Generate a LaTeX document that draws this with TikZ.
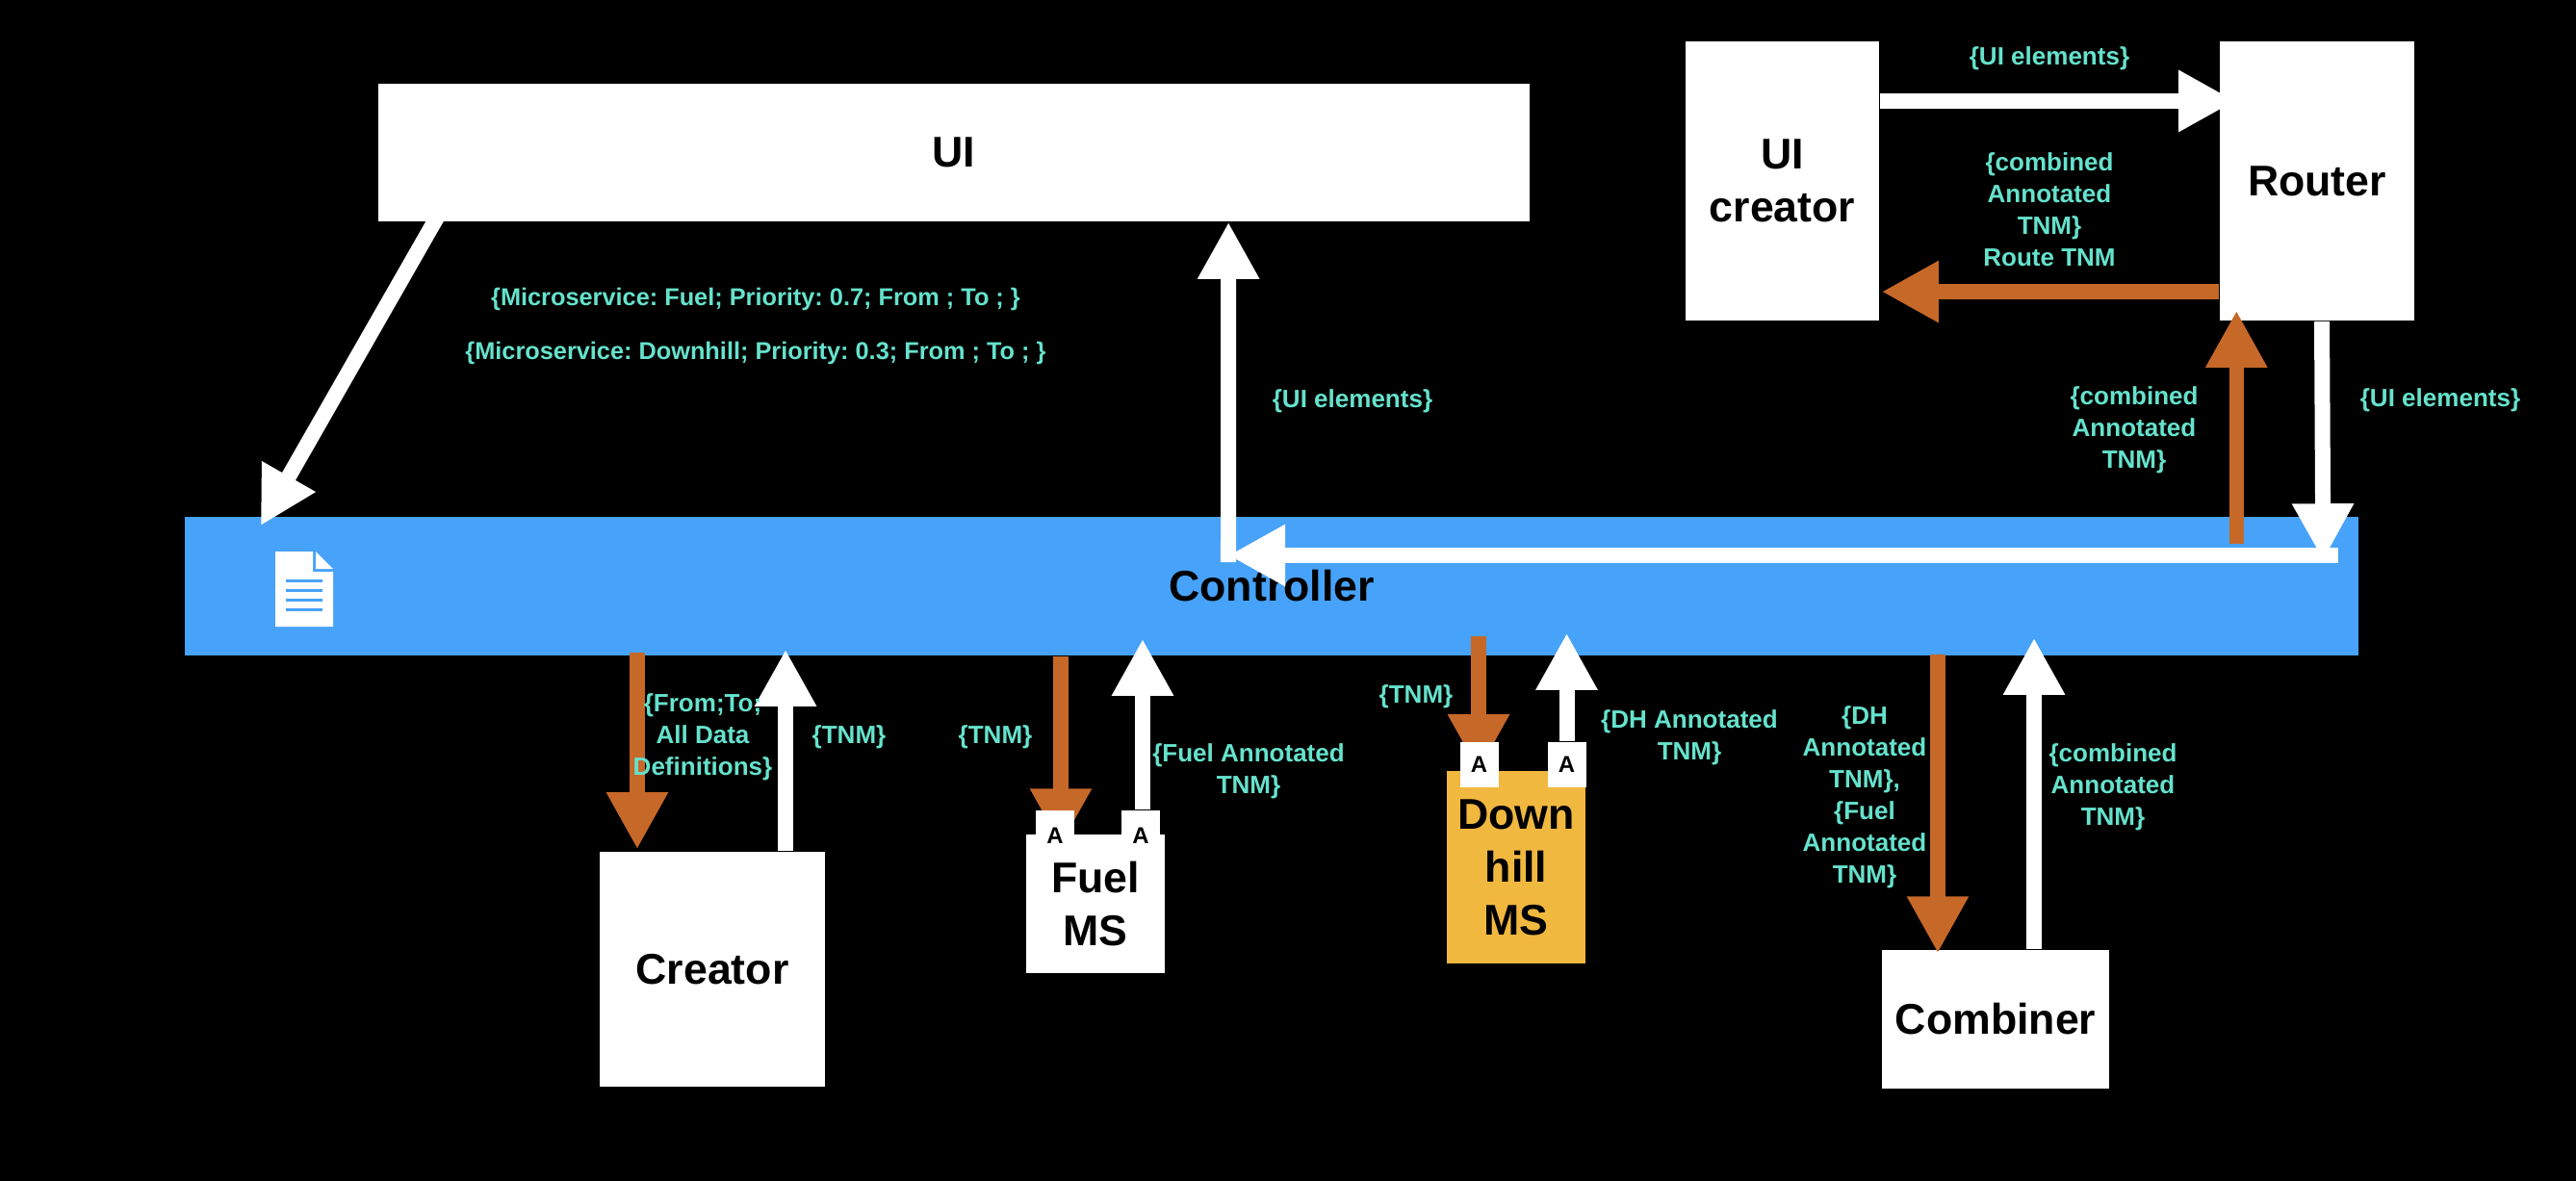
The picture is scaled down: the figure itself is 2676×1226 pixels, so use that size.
\documentclass[tikz,border=0pt]{standalone}
\usepackage{fontspec}
\setmainfont{Liberation Sans}
\usetikzlibrary{arrows.meta}
\definecolor{ctrlblue}{HTML}{47A2F9}
\definecolor{rustorange}{HTML}{C66828}
\definecolor{msyellow}{HTML}{F1B840}
\definecolor{labelteal}{HTML}{65E2CC}
\begin{document}
\begin{tikzpicture}[x=0.01cm,y=-0.01cm]
\tikzstyle{box}=[rectangle,fill=white,inner sep=0pt,align=center,font=\bfseries\fontsize{12.7pt}{15.65pt}\selectfont]
\tikzstyle{abox}=[rectangle,fill=white,inner sep=0pt,minimum width=0.4cm,font=\bfseries\fontsize{6.8pt}{9pt}\selectfont]
\tikzstyle{lbl}=[inner sep=0pt,align=center,text=labelteal,font=\bfseries\frenchspacing\fontsize{7.4pt}{9.39pt}\selectfont]
\tikzstyle{lblwide}=[lbl,font=\bfseries\frenchspacing\fontsize{7.2pt}{9.39pt}\selectfont]
\tikzstyle{whitearrow}=[draw=white,line width=0.16cm,-{Triangle[length=0.59cm,width=0.6cm]}]
\tikzstyle{rustarrow}=[draw=rustorange,line width=0.155cm,-{Triangle[length=0.59cm,width=0.6cm]}]
\useasboundingbox (0,0) rectangle (2676,1226);
\fill[black] (-5,-5) rectangle (2681,1231);
\node [box,minimum width=11.96cm,minimum height=1.43cm] (ui) at (991,158.5) {UI};
\node [box,minimum width=2.01cm,minimum height=2.9cm] (uicreator) at (1851.5,188) {UI\\creator};
\node [box,minimum width=2.02cm,minimum height=2.9cm] (router) at (2407,188) {Router};
\node [box,fill=ctrlblue,minimum width=22.56cm,minimum height=1.44cm] (ctrl) at (1321,609) {Controller};
\node [box,minimum width=2.34cm,minimum height=2.44cm] (creator) at (740,1007) {Creator};
\node [box,minimum width=1.44cm,minimum height=1.44cm] (fuel) at (1138,939) {Fuel\\MS};
\node [box,fill=msyellow,minimum width=1.44cm,minimum height=2cm] (downhill) at (1575,901) {Down\\hill\\MS};
\node [box,minimum width=2.36cm,minimum height=1.44cm] (combiner) at (2073,1059) {Combiner};
\fill[white] (286,573) -- (325,573) -- (325,594) -- (346,594) -- (346,651) -- (286,651) -- cycle;
\fill[white] (328,573) -- (346,591) -- (328,591) -- cycle;
\fill[ctrlblue] (297,601.5) rectangle (335,604.5);
\fill[ctrlblue] (297,611.5) rectangle (335,614.5);
\fill[ctrlblue] (297,621.5) rectangle (335,624.5);
\fill[ctrlblue] (297,631.5) rectangle (335,634.5);
\coordinate (creatorin) at ([xshift=-0.78cm,yshift=0.02cm]creator.north);
\coordinate (creatorout) at ([xshift=0.76cm]creator.north);
\coordinate (fuelin) at ([xshift=-0.36cm,yshift=-0.12cm]fuel.north);
\coordinate (downhillin) at ([xshift=-0.39cm,yshift=-0.01cm]downhill.north);
\coordinate (combinerin) at ([xshift=-0.6cm,yshift=-0.04cm]combiner.north);
\coordinate (combinerout) at ([xshift=0.4cm]combiner.north);
\coordinate (routein) at ([xshift=0.17cm,yshift=0.83cm]router.west);
\coordinate (routeback) at ([yshift=-1.15cm]router.west);
\coordinate (ctrlbar) at ([xshift=-0.21cm,yshift=0.32cm]ctrl.east);
\coordinate (ctrlbarend) at ([xshift=-0.45cm,yshift=0.32cm]ctrl.center);
\draw[rustarrow] ([yshift=0.04cm]ctrl.south -| creatorin) -- (creatorin);
\draw[rustarrow] (ctrl.south -| fuelin) -- (fuelin);
\draw[rustarrow] ([yshift=0.21cm]ctrl.south -| downhillin) -- (downhillin);
\draw[rustarrow] ([yshift=0.02cm]ctrl.south -| combinerin) -- (combinerin);
\node [abox,minimum height=0.52cm] (fuela) at (1096,868) {A};
\node [abox,minimum height=0.52cm] (fuelb) at (1185,868) {A};
\node [abox,minimum height=0.47cm] (downa) at (1536.5,794.5) {A};
\node [abox,minimum height=0.47cm] (downb) at (1627.5,794.5) {A};
\draw[whitearrow] (creatorout) -- ([yshift=0.07cm]ctrl.south -| creatorout);
\draw[whitearrow] ([xshift=0.02cm]fuelb.north) -- ([xshift=0.02cm,yshift=0.18cm]ctrl.south -| fuelb.north);
\draw[whitearrow] (downb.north) -- ([yshift=0.24cm]ctrl.south -| downb.north);
\draw[whitearrow] (combinerout) -- ([yshift=0.19cm]ctrl.south -| combinerout);
\draw[whitearrow] ([xshift=0.62cm,yshift=0.05cm]ui.south west) -- ([xshift=0.79cm,yshift=-0.1cm]ctrl.north west);
\draw[whitearrow] ([xshift=-0.45cm,yshift=0.25cm]ctrl.center) -- ([xshift=2.85cm]ui.south);
\draw[whitearrow] (ctrlbar) -- (ctrlbarend);
\draw[whitearrow] (uicreator.east |- routein) -- (routein);
\draw[rustarrow] (routeback) -- ([xshift=0.02cm]uicreator.east |- routeback);
\draw[rustarrow] ([xshift=0.18cm,yshift=-0.29cm]router.south west |- ctrl.north) -- ([xshift=0.18cm,yshift=0.11cm]router.south west);
\draw[whitearrow] ([xshift=0.05cm]router.south) -- ([xshift=-0.37cm,yshift=-0.46cm]ctrl.north east);
\node [lblwide] (msfuel) at (785,311) {\{Microservice: Fuel; Priority: 0.7; From ; To ; \}};
\node [lblwide] (msdown) at (785,367) {\{Microservice: Downhill; Priority: 0.3; From ; To ; \}};
\node [lbl] (uielemleft) at (1405,417) {\{UI elements\}};
\node [lbl] (uielemtop) at (2129,61) {\{UI elements\}};
\node [lbl] (routelbl) at (2129,218) {\{combined\\Annotated\\TNM\}\\Route TNM};
\node [lbl] (combup) at (2217,447) {\{combined\\Annotated\\TNM\}};
\node [lbl] (uielemright) at (2535,416) {\{UI elements\}};
\node [lbl] (fromto) at (730,766) {\{From;To;\\All Data\\Definitions\}};
\node [lbl] (tnmone) at (882,766) {\{TNM\}};
\node [lbl] (tnmtwo) at (1034,766) {\{TNM\}};
\node [lbl] (fuelann) at (1297,801) {\{Fuel Annotated\\TNM\}};
\node [lbl] (tnmthree) at (1471,724) {\{TNM\}};
\node [lbl] (dhann) at (1755,766) {\{DH Annotated\\TNM\}};
\node [lbl] (combin) at (1937,828) {\{DH\\Annotated\\TNM\},\\\{Fuel\\Annotated\\TNM\}};
\node [lbl] (combout) at (2195,818) {\{combined\\Annotated\\TNM\}};
\end{tikzpicture}
\end{document}
